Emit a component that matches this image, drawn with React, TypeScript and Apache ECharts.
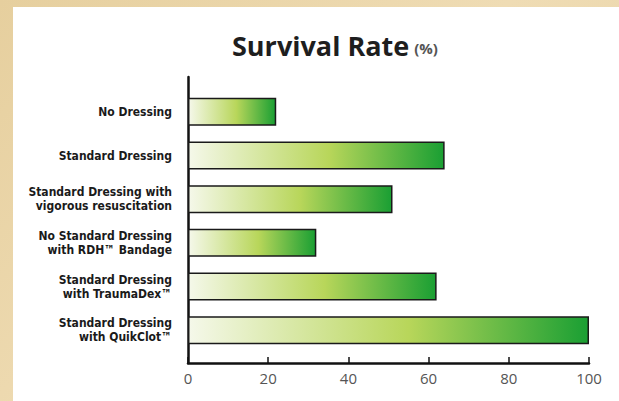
import React, { useEffect, useRef } from "react";
import * as echarts from "echarts";

const categories = [
  "No Dressing",
  "Standard Dressing",
  "Standard Dressing with\nvigorous resuscitation",
  "No Standard Dressing\nwith RDH™ Bandage",
  "Standard Dressing\nwith TraumaDex™",
  "Standard Dressing\nwith QuikClot™",
];
const survival = [22, 64, 51, 32, 62, 100];
const xMin = 0;
const xMax = 100;
const xStep = 20;

export default function App() {
  const ref = useRef<HTMLDivElement>(null);
  useEffect(() => {
    document.body.style.margin = "0";
    document.documentElement.style.background = "#ffffff";
    if (!ref.current) return;
    const chart = echarts.init(ref.current, undefined, { renderer: "svg" });
    const barGradient = new echarts.graphic.LinearGradient(0, 0, 1, 0, [
      { offset: 0, color: "#f5f8ea" },
      { offset: 0.55, color: "#b8d65a" },
      { offset: 1, color: "#1a9f33" },
    ]);
    const L = 188;
    const W = 401;
    chart.setOption({
      animation: false,
      backgroundColor: "transparent",
      title: {
        text: "{a|Survival Rate} {b|(%)}",
        left: 227,
        top: 27,
        textStyle: {
          rich: {
            a: {
              fontFamily: "'Open Sans', sans-serif",
              fontWeight: "bold",
              fontSize: 27,
              color: "#1e1e1e",
            },
            b: {
              fontFamily: "'Open Sans', sans-serif",
              fontSize: 15,
              color: "#555555",
              padding: [4, 0, 0, 0],
            },
          },
        },
      },
      grid: [
        { left: L, width: W, top: 90, height: 262 },
        { left: L, width: W, top: 77, height: 286 },
      ],
      xAxis: [
        {
          gridIndex: 0,
          type: "value",
          min: xMin,
          max: xMax,
          interval: xStep,
          show: false,
        },
        {
          gridIndex: 1,
          type: "value",
          min: xMin,
          max: xMax,
          interval: xStep,
          axisLine: { show: true, lineStyle: { color: "#111111", width: 2.5 } },
          axisTick: {
            show: true,
            inside: true,
            length: 6,
            lineStyle: { color: "#111111", width: 1.5 },
          },
          splitLine: { show: false },
          axisLabel: {
            margin: 7,
            color: "#555555",
            fontSize: 15,
            fontFamily: "'Open Sans', sans-serif",
          },
        },
      ],
      yAxis: [
        {
          gridIndex: 0,
          type: "category",
          inverse: true,
          data: categories,
          axisLine: { show: false },
          axisTick: { show: false },
          axisLabel: {
            margin: 16,
            color: "#1a1a1a",
            fontWeight: "bold",
            fontSize: 12,
            lineHeight: 14,
            fontFamily: "'DejaVu Sans Condensed', 'DejaVu Sans', sans-serif",
          },
        },
        {
          gridIndex: 1,
          type: "value",
          min: 0,
          max: 1,
          axisLine: { show: true, lineStyle: { color: "#111111", width: 2.5 } },
          axisTick: { show: false },
          axisLabel: { show: false },
          splitLine: { show: false },
        },
      ],
      series: [
        {
          type: "bar",
          xAxisIndex: 0,
          yAxisIndex: 0,
          data: survival,
          barWidth: 28,
          itemStyle: {
            color: barGradient,
            borderColor: "#1a1a1a",
            borderWidth: 1.5,
          },
        },
      ],
    });
    return () => chart.dispose();
  }, []);
  return (
    <div
      style={{
        position: "fixed",
        left: 0,
        top: 0,
        width: 619,
        height: 401,
        overflow: "hidden",
        background: "linear-gradient(135deg, #e6cf9e 0%, #efdcb4 50%, #e8d2a3 100%)",
      }}
    >
      <div
        style={{
          position: "absolute",
          left: 13,
          top: 7,
          width: 800,
          height: 600,
          background: "#ffffff",
        }}
      />
      <div
        ref={ref}
        style={{ position: "absolute", left: 0, top: 0, width: 619, height: 401 }}
      />
    </div>
  );
}
